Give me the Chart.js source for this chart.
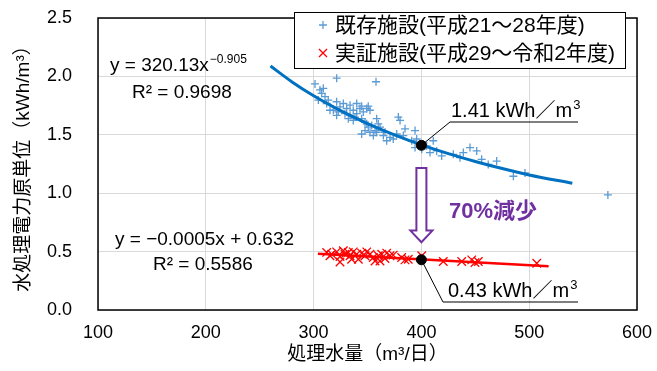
<!DOCTYPE html>
<html>
<head>
<meta charset="utf-8">
<script src="https://cdn.jsdelivr.net/npm/chart.js@4.4.1/dist/chart.umd.min.js"></script>
<style>
html, body { margin: 0; padding: 0; background: #fff; }
</style>
</head>
<body>
<canvas id="chart" width="657" height="371"></canvas>
<script>
// existing plants (H21-H28): treated volume vs unit power
const existingX = [301.3, 321.4, 357.9, 309, 307.5, 304.4, 310.6, 312.1, 315.2, 321.4, 322.9, 321.4, 327.6, 330.7,
    333.8, 340, 343, 349.3, 352.3, 350.7, 344.6, 332.2, 336.8, 329.1, 333.8, 340, 344.6, 347.7, 353.9, 358.5,
    360, 361.6, 357, 352.3, 347.7, 344.6, 355.4, 364.7, 367.8, 370.9, 377.1, 380.2, 378.6, 384.8, 383.2, 394.1,
    395.6, 394.1, 400.3, 404.9, 408, 411, 418.8, 429.6, 438.9, 435.8, 445.1, 451.3, 455.9, 462, 469.8, 485.3,
    496.1, 349.3, 318.3, 573, 305.9, 313.6, 324.5, 336.8, 346.1, 338.4, 350.7, 358.5, 366.2, 373.9, 391, 414.2];
const existingY = [1.936, 1.985, 1.954, 1.898, 1.855, 1.797, 1.826, 1.768, 1.710, 1.783, 1.696, 1.667, 1.768, 1.725,
    1.754, 1.768, 1.725, 1.725, 1.710, 1.745, 1.745, 1.638, 1.623, 1.681, 1.667, 1.681, 1.638, 1.609, 1.580, 1.638,
    1.594, 1.565, 1.536, 1.522, 1.536, 1.507, 1.493, 1.493, 1.449, 1.478, 1.507, 1.623, 1.652, 1.551, 1.493, 1.536,
    1.464, 1.391, 1.377, 1.406, 1.348, 1.449, 1.319, 1.333, 1.348, 1.304, 1.391, 1.362, 1.290, 1.246, 1.275, 1.145,
    1.174, 1.594, 1.710, 0.985, 1.884, 1.797, 1.739, 1.710, 1.696, 1.652, 1.565, 1.522, 1.522, 1.464, 1.449, 1.362];

// demonstration plant (H29-R2)
const verifiedX = [312.1, 316.8, 321.4, 324.5, 327.6, 329.1, 332.2, 333.8, 336.8, 340, 341.5, 344.6, 347.7, 349.3,
    352.3, 355.4, 357, 360, 363.2, 366.2, 367.8, 370.9, 373.9, 381.7, 384.8, 387.8, 400.3, 420.3, 437.4, 446.7,
    449.7, 452.8, 507, 324.5, 315.2, 335.3, 361.6];
const verifiedY = [0.493, 0.478, 0.498, 0.458, 0.507, 0.478, 0.493, 0.464, 0.498, 0.478, 0.435, 0.487, 0.464, 0.498,
    0.478, 0.449, 0.420, 0.464, 0.478, 0.441, 0.487, 0.464, 0.470, 0.449, 0.429, 0.435, 0.464, 0.415, 0.415, 0.429,
    0.406, 0.415, 0.400, 0.411, 0.464, 0.435, 0.420];

// trend lines as drawn in the picture
const fitExistingX = [260, 280, 300, 325, 350, 375, 400, 425, 450, 475, 500, 540];
const fitExistingY = [2.089, 1.953, 1.835, 1.707, 1.596, 1.500, 1.414, 1.339, 1.272, 1.211, 1.156, 1.085];
const fitVerifiedX = [304, 518];
const fitVerifiedY = [0.482, 0.375];

// highlighted values at 400 m3/day
const markerX = [400, 400];
const markerY = [1.41, 0.43];
const markerLabels = ['1.41 kWh／m', '0.43 kWh／m'];

const seriesNames = ['既存施設(平成21～28年度)', '実証施設(平成29～令和2年度)'];
const xTitle = '処理水量（m³/日）';
const yTitle = '水処理電力原単位（kWh/m³）';

const FONT = "'Liberation Sans', 'Noto Sans CJK JP', sans-serif";
const BLUE = '#5B9BD5';
const RED = '#FF0000';
const PURPLE = '#7030A0';

const pts = (xs, ys) => xs.map((x, i) => ({x: x, y: ys[i]}));

// keep the plot area where the reference has it
function noPad(s) {
    s.paddingTop = 0;
    s.paddingBottom = 0;
    s.paddingLeft = 0;
    s.paddingRight = 0;
}

const overlay = {
    id: 'overlay',
    afterDraw(chart) {
        const {ctx, chartArea: a, scales: {x, y}} = chart;
        ctx.save();

        // plot frame
        ctx.strokeStyle = '#000';
        ctx.lineWidth = 1.5;
        ctx.strokeRect(a.left, a.top, a.right - a.left, a.bottom - a.top);

        // legend box
        ctx.fillStyle = '#fff';
        ctx.fillRect(294, 12, 331, 56);
        ctx.lineWidth = 1;
        ctx.strokeRect(294.5, 12.5, 331, 56);
        const rows = [25, 53];
        ctx.lineWidth = 1.3;
        ctx.strokeStyle = BLUE;
        ctx.beginPath();
        ctx.moveTo(319, rows[0]); ctx.lineTo(327, rows[0]);
        ctx.moveTo(323, rows[0] - 4); ctx.lineTo(323, rows[0] + 4);
        ctx.stroke();
        ctx.strokeStyle = RED;
        ctx.beginPath();
        ctx.moveTo(319, rows[1] - 4); ctx.lineTo(327, rows[1] + 4);
        ctx.moveTo(327, rows[1] - 4); ctx.lineTo(319, rows[1] + 4);
        ctx.stroke();
        ctx.fillStyle = '#000';
        ctx.font = '21px ' + FONT;
        ctx.textBaseline = 'middle';
        ctx.textAlign = 'left';
        ctx.fillText(seriesNames[0], 335, rows[0] + 1);
        ctx.fillText(seriesNames[1], 335, rows[1] + 1);

        // regression equations
        ctx.textBaseline = 'alphabetic';
        ctx.font = '19px ' + FONT;
        ctx.fillText('y = 320.13x', 110, 71);
        const w = ctx.measureText('y = 320.13x').width;
        ctx.font = '12px ' + FONT;
        ctx.fillText('−0.905', 110 + w + 1, 63);
        ctx.font = '19px ' + FONT;
        ctx.fillText('R² = 0.9698', 132, 98);
        ctx.fillText('y = −0.0005x + 0.632', 115, 245);
        ctx.fillText('R² = 0.5586', 153, 270);

        // arrow between the two values
        const ax = x.getPixelForValue(400);
        const top = y.getPixelForValue(1.215);
        const neck = y.getPixelForValue(0.68);
        const tip = y.getPixelForValue(0.58);
        ctx.beginPath();
        ctx.moveTo(ax - 5, top);
        ctx.lineTo(ax + 5, top);
        ctx.lineTo(ax + 5, neck);
        ctx.lineTo(ax + 11, neck);
        ctx.lineTo(ax, tip);
        ctx.lineTo(ax - 11, neck);
        ctx.lineTo(ax - 5, neck);
        ctx.closePath();
        ctx.fillStyle = '#fff';
        ctx.fill();
        ctx.strokeStyle = PURPLE;
        ctx.lineWidth = 2;
        ctx.stroke();
        ctx.fillStyle = PURPLE;
        ctx.font = 'bold 22px ' + FONT;
        ctx.fillText('70%減少', 449, 218);

        // value callouts
        const callouts = [
            {lx: 450, ly: 122, ex: 578, tx: 451},
            {lx: 443, ly: 302, ex: 578, tx: 448}
        ];
        ctx.strokeStyle = '#000';
        ctx.fillStyle = '#000';
        ctx.lineWidth = 1;
        callouts.forEach((c, i) => {
            const px = x.getPixelForValue(markerX[i]);
            const py = y.getPixelForValue(markerY[i]);
            ctx.beginPath();
            ctx.moveTo(px, py);
            ctx.lineTo(c.lx, c.ly);
            ctx.lineTo(c.ex, c.ly);
            ctx.stroke();
            ctx.font = '20px ' + FONT;
            ctx.fillText(markerLabels[i], c.tx, c.ly - 5);
            const tw = ctx.measureText(markerLabels[i]).width;
            ctx.font = '13px ' + FONT;
            ctx.fillText('3', c.tx + tw + 1, c.ly - 13);
        });

        ctx.restore();
    }
};

new Chart(document.getElementById('chart'), {
    type: 'scatter',
    data: {
        datasets: [
            {
                label: seriesNames[0],
                data: pts(existingX, existingY),
                pointStyle: 'cross',
                pointRadius: 4,
                borderColor: BLUE,
                backgroundColor: BLUE,
                borderWidth: 1.3,
                order: 3
            },
            {
                label: seriesNames[1],
                data: pts(verifiedX, verifiedY),
                pointStyle: 'crossRot',
                pointRadius: 6,
                borderColor: RED,
                backgroundColor: RED,
                borderWidth: 1.3,
                order: 3
            },
            {
                label: 'fit existing',
                data: pts(fitExistingX, fitExistingY),
                showLine: true,
                borderColor: '#0070C0',
                borderWidth: 3,
                pointRadius: 0,
                cubicInterpolationMode: 'monotone',
                order: 2
            },
            {
                label: 'fit verified',
                data: pts(fitVerifiedX, fitVerifiedY),
                showLine: true,
                borderColor: RED,
                borderWidth: 2.5,
                pointRadius: 0,
                order: 2
            },
            {
                label: 'at 400',
                data: pts(markerX, markerY),
                pointRadius: 5,
                backgroundColor: '#000',
                borderColor: '#000',
                order: 1
            }
        ]
    },
    options: {
        responsive: false,
        animation: false,
        layout: {padding: {top: 18, right: 20, left: 0, bottom: 0}},
        plugins: {
            legend: {display: false},
            tooltip: {enabled: false}
        },
        scales: {
            x: {
                type: 'linear',
                min: 100,
                max: 600,
                afterFit: s => { s.height = 61; noPad(s); },
                ticks: {
                    stepSize: 100,
                    padding: 12,
                    color: '#000',
                    font: {family: FONT, size: 18}
                },
                grid: {color: '#d9d9d9', drawTicks: false},
                border: {display: false},
                title: {
                    display: true,
                    text: xTitle,
                    color: '#000',
                    font: {family: FONT, size: 19},
                    padding: {top: 0, bottom: 5}
                }
            },
            y: {
                min: 0,
                max: 2.5,
                afterFit: s => { s.width = 98; noPad(s); },
                ticks: {
                    stepSize: 0.5,
                    padding: 26,
                    color: '#000',
                    font: {family: FONT, size: 18},
                    callback: v => v.toFixed(1)
                },
                grid: {color: '#d9d9d9', drawTicks: false},
                border: {display: false},
                title: {
                    display: true,
                    text: yTitle,
                    color: '#000',
                    font: {family: FONT, size: 19},
                    padding: {top: 12, bottom: 0}
                }
            }
        }
    },
    plugins: [overlay]
});
</script>
</body>
</html>
